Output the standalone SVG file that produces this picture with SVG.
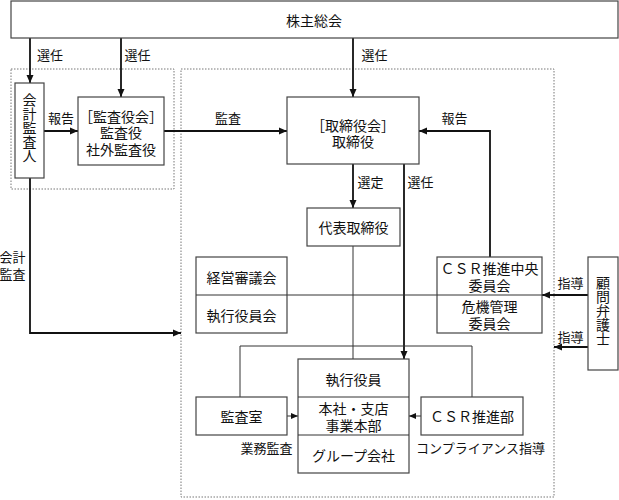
<svg xmlns="http://www.w3.org/2000/svg" width="619" height="500" viewBox="0 0 619 500">
<defs>
<marker id="ah" markerWidth="9" markerHeight="8" refX="8" refY="4" orient="auto" markerUnits="userSpaceOnUse"><path d="M0,0.5 L8,4 L0,7.5 z" fill="#111"/></marker>
<marker id="ahs" markerWidth="8" markerHeight="7" refX="7" refY="3.5" orient="auto" markerUnits="userSpaceOnUse"><path d="M0,0.5 L7,3.5 L0,6.5 z" fill="#111"/></marker>
<style>
.box{fill:#fff;stroke:#444;stroke-width:1.2}
.grp{fill:none;stroke:#777;stroke-width:1;stroke-dasharray:1.5 1.5}
.t{font-family:"Noto Sans CJK JP","Noto Sans CJK SC",sans-serif;font-size:14px;fill:#111;text-anchor:middle;dominant-baseline:central}
.l{font-size:13px}
.v{writing-mode:vertical-rl}
.thick{stroke:#111;stroke-width:1.8;fill:none}
.thin{stroke:#333;stroke-width:1;fill:none}
</style>
</defs>
<rect width="619" height="500" fill="#fff"/>
<g id="groups">
<rect class="grp" x="11" y="69" width="163" height="120"/>
<rect class="grp" x="181" y="69" width="373" height="428"/>
</g>
<g id="connectors">
<path class="thick" d="M30,38 V83" marker-end="url(#ah)"/>
<path class="thick" d="M121,38 V97" marker-end="url(#ah)"/>
<path class="thick" d="M353,38 V97" marker-end="url(#ah)"/>
<path class="thick" d="M44,131 H78" marker-end="url(#ah)"/>
<path class="thick" d="M164,131 H287" marker-end="url(#ah)"/>
<path class="thick" d="M490,257 V131 H419" marker-end="url(#ah)"/>
<path class="thick" d="M353,164 V208" marker-end="url(#ah)"/>
<path class="thick" d="M404,164 V359" marker-end="url(#ah)"/>
<path class="thick" d="M30,178 V333 H181" marker-end="url(#ah)"/>
<path class="thick" d="M588,295 H542" marker-end="url(#ah)"/>
<path class="thick" d="M588,347 H554" marker-end="url(#ah)"/>
<path class="thin" d="M353,246 V359"/>
<path class="thin" d="M287,295 H437"/>
<path class="thin" d="M240,397 V346 H472 V397"/>
<path class="thin" d="M287,416 H298" marker-end="url(#ahs)"/>
<path class="thin" d="M421,416 H409" marker-end="url(#ahs)"/>
<g class="t l">
<text x="50" y="54">選任</text>
<text x="137.5" y="54">選任</text>
<text x="374.5" y="54">選任</text>
<text x="61" y="117">報告</text>
<text x="228" y="117">監査</text>
<text x="454.5" y="117">報告</text>
<text x="370.5" y="181">選定</text>
<text x="420.5" y="181">選任</text>
<text><tspan x="12.5" y="256">会計</tspan><tspan x="12.5" y="273">監査</tspan></text>
<text x="570.5" y="282">指導</text>
<text x="570.5" y="336">指導</text>
<text x="266.5" y="447">業務監査</text>
<text x="480.5" y="447">コンプライアンス指導</text>
</g>
</g>
<g id="shareholders"><rect class="box" x="11" y="1" width="607" height="37"/><text class="t" x="314" y="20">株主総会</text></g>
<g id="accounting-auditor"><rect class="box" x="15" y="83" width="29" height="95"/>
<text class="t v" x="29.5" y="128">会計監査人</text></g>
<g id="audit-board"><rect class="box" x="78" y="97" width="86" height="68"/>
<text class="t"><tspan x="121" y="116">［監査役会］</tspan><tspan x="121" y="132">監査役</tspan><tspan x="121" y="149">社外監査役</tspan></text></g>
<g id="board"><rect class="box" x="287" y="97" width="132" height="67"/>
<text class="t"><tspan x="353" y="125">［取締役会］</tspan><tspan x="353" y="141">取締役</tspan></text></g>
<g id="representative"><rect class="box" x="307" y="208" width="93" height="38"/><text class="t" x="353.5" y="227">代表取締役</text></g>
<g id="management-council"><rect class="box" x="196" y="257" width="91" height="76"/><path class="thin" d="M196,295 H287"/>
<text class="t" x="241.5" y="277">経営審議会</text><text class="t" x="241.5" y="315">執行役員会</text></g>
<g id="csr-committee"><rect class="box" x="437" y="257" width="105" height="76"/><path class="thin" d="M437,295 H542"/>
<text class="t"><tspan x="489.5" y="268">ＣＳＲ推進中央</tspan><tspan x="489.5" y="285">委員会</tspan></text>
<text class="t"><tspan x="489.5" y="306">危機管理</tspan><tspan x="489.5" y="323">委員会</tspan></text></g>
<g id="legal-advisor"><rect class="box" x="588" y="257" width="30" height="113"/>
<text class="t v" x="603" y="311">顧問弁護士</text></g>
<g id="executives"><rect class="box" x="298" y="359" width="111" height="114"/><path class="thin" d="M298,397 H409 M298,435 H409"/>
<text class="t" x="353.5" y="379">執行役員</text>
<text class="t"><tspan x="353.5" y="408">本社・支店</tspan><tspan x="353.5" y="425">事業本部</tspan></text>
<text class="t" x="353.5" y="455">グループ会社</text></g>
<g id="audit-office"><rect class="box" x="196" y="397" width="91" height="38"/><text class="t" x="241.5" y="416">監査室</text></g>
<g id="csr-dept"><rect class="box" x="421" y="397" width="102" height="38"/><text class="t" x="472" y="416">ＣＳＲ推進部</text></g>
</svg>
